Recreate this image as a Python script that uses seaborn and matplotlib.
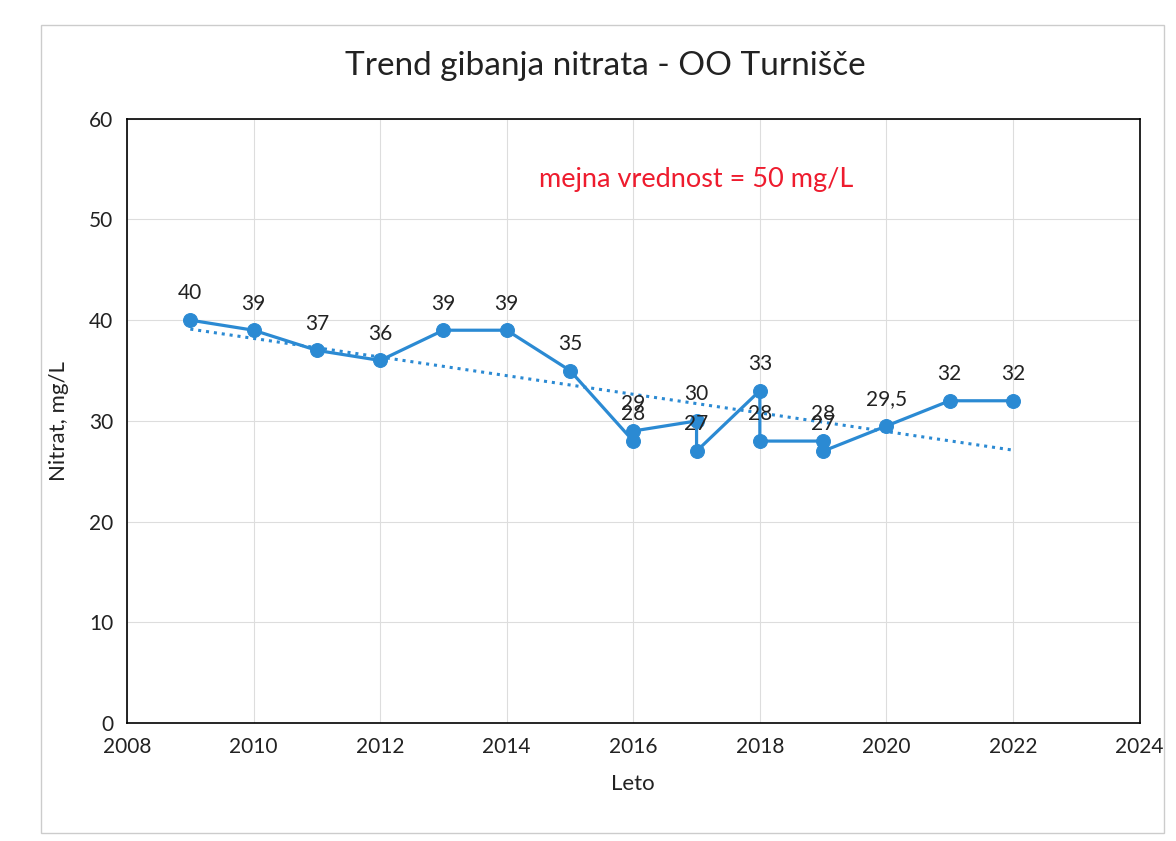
import matplotlib
matplotlib.use("Agg")
import matplotlib.pyplot as plt
import seaborn as sns
import pandas as pd

# measurements (order as in the source series, some years have two samples)
years = [2009, 2010, 2011, 2012, 2013, 2014, 2015, 2016, 2016, 2017, 2017,
         2018, 2018, 2019, 2019, 2020, 2021, 2022]
nitrate = [40, 39, 37, 36, 39, 39, 35, 28, 29, 30, 27, 33, 28, 28, 27, 29.5, 32, 32]
labels = ["40", "39", "37", "36", "39", "39", "35", "28", "29", "30", "27",
          "33", "28", "28", "27", "29,5", "32", "32"]

df = pd.DataFrame({"Leto": years, "Nitrat": nitrate})

sns.set_style("whitegrid")
plt.rcParams["font.family"] = ["Lato", "DejaVu Sans"]

blue = "#2b8ad3"

fig = plt.figure(figsize=(11.76, 8.41), dpi=100)
ax = fig.add_axes([0.108, 0.140, 0.861, 0.719])

sns.lineplot(data=df, x="Leto", y="Nitrat", sort=False, estimator=None,
             color=blue, linewidth=2.3, marker="o", markersize=10,
             markeredgecolor=blue, ax=ax)
sns.regplot(data=df, x="Leto", y="Nitrat", scatter=False, ci=None, ax=ax,
            line_kws=dict(color=blue, linestyle=(0, (1, 1.6)), linewidth=2.2))

for x, y, t in zip(years, nitrate, labels):
    ax.annotate(t, (x, y), xytext=(0, 12), textcoords="offset points",
                ha="center", va="bottom", fontsize=15, color="#222222")

ax.text(2017.0, 54.0, "mejna vrednost = 50 mg/L", color="#ee1c2e",
        fontsize=19.5, ha="center", va="center")

ax.set_xlim(2008, 2024)
ax.set_ylim(0, 60)
ax.set_xticks(range(2008, 2025, 2))
ax.set_yticks(range(0, 61, 10))
ax.tick_params(axis="both", labelsize=15, colors="#222222", length=0, pad=10)
ax.grid(True, color="#dddddd", linewidth=0.8)
for s in ax.spines.values():
    s.set_color("black")
    s.set_linewidth(1.2)

ax.set_xlabel("Leto", fontsize=16, color="#222222", labelpad=12)
ax.set_ylabel("Nitrat, mg/L", fontsize=16, color="#222222", labelpad=14)

fig.text(0.515, 0.922, "Trend gibanja nitrata - OO Turnišče",
         ha="center", va="center", fontsize=24, color="#222222")

fig.patches.append(plt.Rectangle((0.035, 0.01), 0.955, 0.96, transform=fig.transFigure,
                                 fill=False, edgecolor="#cccccc", linewidth=1))

fig.savefig("out.png", dpi=100)
